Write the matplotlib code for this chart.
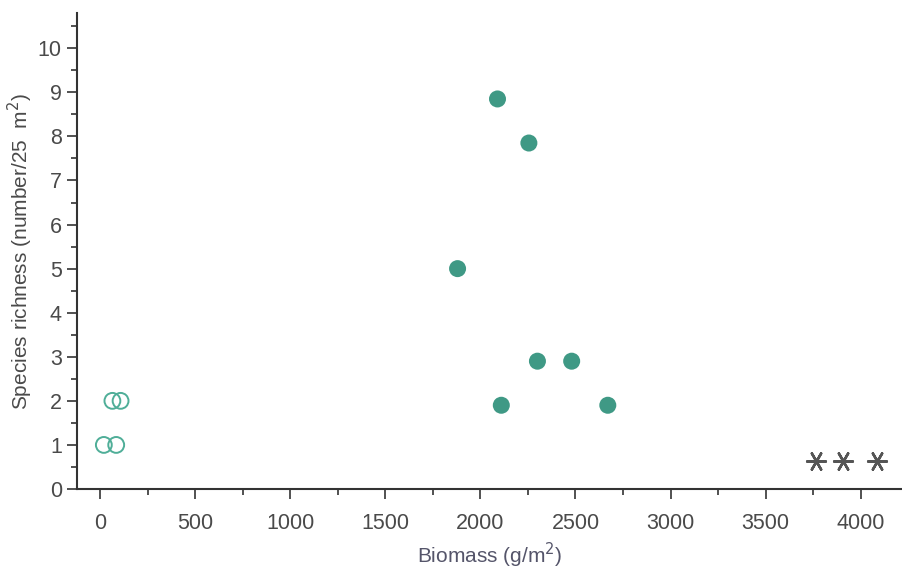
import numpy as np
import matplotlib
matplotlib.use("Agg")
import matplotlib.pyplot as plt
from matplotlib.ticker import MultipleLocator

# open circles (low biomass plots)
open_x = [20, 85, 65, 108]
open_y = [1, 1, 2, 2]

# filled circles
filled_x = [2090, 2255, 1880, 2300, 2480, 2110, 2670]
filled_y = [8.85, 7.85, 5.0, 2.9, 2.9, 1.9, 1.9]

# asterisks (highest biomass, richness near zero)
star_x = [3765, 3905, 4085]
star_y = [0.63, 0.63, 0.63]

x_ticks = [0, 500, 1000, 1500, 2000, 2500, 3000, 3500, 4000]
y_ticks = list(range(0, 11))

plt.rcParams['font.family'] = ['Liberation Sans', 'DejaVu Sans']
text_col = '#4a4a4a'
teal = '#3f9985'

fig = plt.figure(figsize=(9.02, 5.73), dpi=100)
ax = fig.add_axes([0.0854, 0.1466, 0.9146, 0.8307])

ax.scatter(open_x, open_y, s=130, facecolors='none', edgecolors='#4fae98',
           linewidths=1.4, zorder=3)
ax.scatter(filled_x, filled_y, s=150, color=teal, edgecolors='none', zorder=3)
ax.scatter(star_x, star_y, s=180, marker=(6, 2, 30), color='#555555',
           linewidths=1.8, zorder=3)

ax.set_xlim(-121, 4217)
ax.set_ylim(0, 10.8)
ax.set_xticks(x_ticks)
ax.set_yticks(y_ticks)
ax.xaxis.set_minor_locator(MultipleLocator(250))
ax.yaxis.set_minor_locator(MultipleLocator(0.5))

for s in ['top', 'right']:
    ax.spines[s].set_visible(False)
for s in ['left', 'bottom']:
    ax.spines[s].set_linewidth(1.5)
    ax.spines[s].set_color('#333333')

ax.tick_params(which='major', length=7, width=1.2, color='#333333',
               labelsize=15.5, labelcolor=text_col)
ax.tick_params(which='minor', length=4, width=1.2, color='#333333')
ax.tick_params(axis='x', which='major', pad=10)
ax.tick_params(axis='y', which='major', pad=4)

ax.set_xlabel('Biomass (g/m$^2$)', fontsize=15, color='#55556a', labelpad=5)
ax.set_ylabel('Species richness (number/25  m$^2$)', fontsize=15,
              color=text_col, labelpad=2)

fig.savefig('out.png', dpi=100)
